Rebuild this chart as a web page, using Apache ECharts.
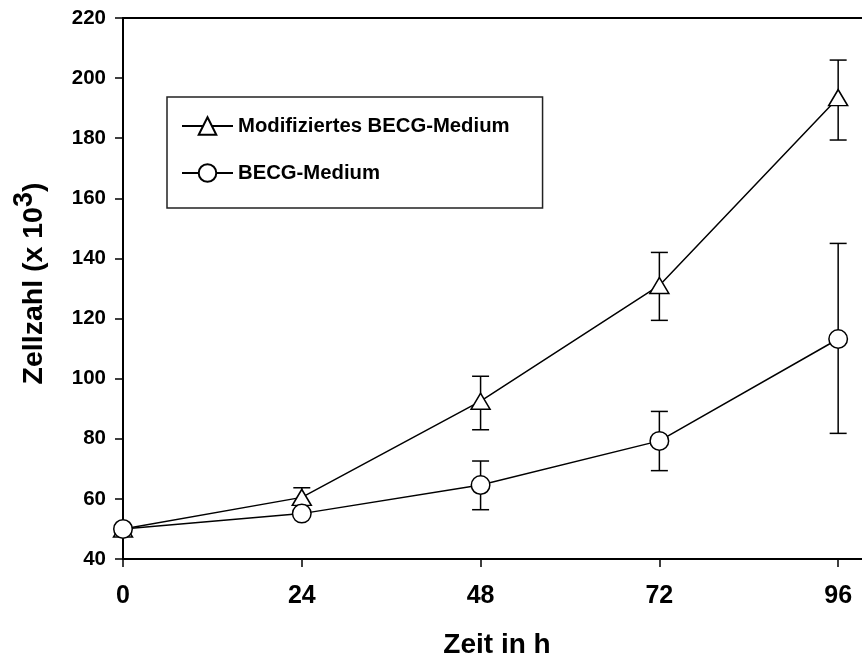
<!DOCTYPE html>
<html>
<head>
<meta charset="utf-8">
<script src="https://cdn.jsdelivr.net/npm/echarts@6/dist/echarts.min.js"></script>
<style>
  html, body { margin: 0; padding: 0; background: #fff; }
  #chart { width: 862px; height: 657px; }
</style>
</head>
<body>
<div id="chart"></div>
<script>
// hours
var hours = [0, 24, 48, 72, 96];
var xTicks = [0, 24, 48, 72, 96];

// Modifiziertes BECG-Medium (triangles)
var modMean = [50, 60.5, 92.5, 131, 193.5];
var modHigh = [null, 63.7, 100.8, 142, 206];
var modLow = [null, 58, 83, 119.4, 179.4];

// BECG-Medium (circles)
var becgMean = [50, 55.1, 64.6, 79.3, 113.2];
var becgHigh = [null, null, 72.6, 89.1, 145];
var becgLow = [null, null, 56.4, 69.4, 81.8];

var font = 'Liberation Sans, Arial, sans-serif';

function pairs(ys) {
  return hours.map(function (h, i) { return [h, ys[i]]; });
}

function errData(lo, hi) {
  var out = [];
  hours.forEach(function (h, i) {
    if (lo[i] != null && hi[i] != null) out.push([h, lo[i], hi[i]]);
  });
  return out;
}

function errorBar(params, api) {
  var x = api.value(0);
  var top = api.coord([x, api.value(2)]);
  var bot = api.coord([x, api.value(1)]);
  var w = 8.5;
  var st = { stroke: '#000', lineWidth: 1.5 };
  return {
    type: 'group',
    children: [
      { type: 'line', shape: { x1: top[0], y1: top[1], x2: bot[0], y2: bot[1] }, style: st },
      { type: 'line', shape: { x1: top[0] - w, y1: top[1], x2: top[0] + w, y2: top[1] }, style: st },
      { type: 'line', shape: { x1: bot[0] - w, y1: bot[1], x2: bot[0] + w, y2: bot[1] }, style: st }
    ]
  };
}

var chart = echarts.init(document.getElementById('chart'));

chart.setOption({
  animation: false,
  grid: { left: 123, right: 0, top: 18, bottom: 98, outerBoundsMode: 'none' },
  legend: {
    orient: 'vertical',
    left: 167,
    top: 97,
    padding: [19, 33, 25, 14],
    itemGap: 27,
    itemWidth: 51,
    itemHeight: 22,
    borderColor: '#222',
    borderWidth: 1.5,
    textStyle: { fontFamily: font, fontSize: 20.3, fontWeight: 'bold', color: '#000' },
    data: ['Modifiziertes BECG-Medium', 'BECG-Medium']
  },
  xAxis: [{
    type: 'value',
    min: 0,
    max: 99.2,
    interval: 24,
    position: 'bottom',
    axisLine: { show: true, lineStyle: { color: '#000', width: 2 } },
    axisTick: { show: true, length: 8, customValues: xTicks, lineStyle: { color: '#000', width: 1.5 } },
    axisLabel: {
      customValues: xTicks,
      margin: 25,
      fontFamily: font, fontSize: 25, fontWeight: 'bold', color: '#000'
    },
    splitLine: { show: false },
    name: 'Zeit in h',
    nameLocation: 'middle',
    nameGap: 72,
    nameTextStyle: { fontFamily: font, fontSize: 28, fontWeight: 'bold', color: '#000', padding: [0, 0, 0, 9] }
  }, {
    type: 'value',
    min: 0,
    max: 99.2,
    position: 'top',
    axisLine: { show: true, lineStyle: { color: '#000', width: 2 } },
    axisTick: { show: false },
    axisLabel: { show: false },
    splitLine: { show: false }
  }],
  yAxis: {
    type: 'value',
    min: 40,
    max: 220,
    interval: 20,
    axisLine: { show: true, lineStyle: { color: '#000', width: 2 } },
    axisTick: { show: true, length: 8, lineStyle: { color: '#000', width: 1.5 } },
    axisLabel: { margin: 17, fontFamily: font, fontSize: 20.5, fontWeight: 'bold', color: '#000' },
    splitLine: { show: false },
    name: 'Zellzahl (x 10{sup|3})',
    nameLocation: 'middle',
    nameGap: 66,
    nameTextStyle: {
      fontFamily: font, fontSize: 28.5, fontWeight: 'bold', color: '#000',
      rich: {
        sup: { fontFamily: font, fontSize: 27, fontWeight: 'bold', color: '#000', lineHeight: 24, verticalAlign: 'top' }
      },
      lineHeight: 46,
      verticalAlign: 'bottom',
      padding: [0, 0, 0, 10]
    }
  },
  series: [
    {
      type: 'custom',
      name: 'modErr',
      renderItem: errorBar,
      data: errData(modLow, modHigh),
      z: 1,
      silent: true
    },
    {
      type: 'custom',
      name: 'becgErr',
      renderItem: errorBar,
      data: errData(becgLow, becgHigh),
      z: 1,
      silent: true
    },
    {
      type: 'line',
      name: 'Modifiziertes BECG-Medium',
      data: pairs(modMean),
      symbol: 'triangle',
      symbolSize: [19, 16],
      showAllSymbol: true,
      lineStyle: { color: '#000', width: 1.5 },
      itemStyle: { color: '#fff', borderColor: '#000', borderWidth: 1.5 },
      z: 3
    },
    {
      type: 'line',
      name: 'BECG-Medium',
      data: pairs(becgMean),
      symbol: 'circle',
      symbolSize: 18.5,
      showAllSymbol: true,
      lineStyle: { color: '#000', width: 1.5 },
      itemStyle: { color: '#fff', borderColor: '#000', borderWidth: 1.5 },
      z: 4
    }
  ]
});
</script>
</body>
</html>
